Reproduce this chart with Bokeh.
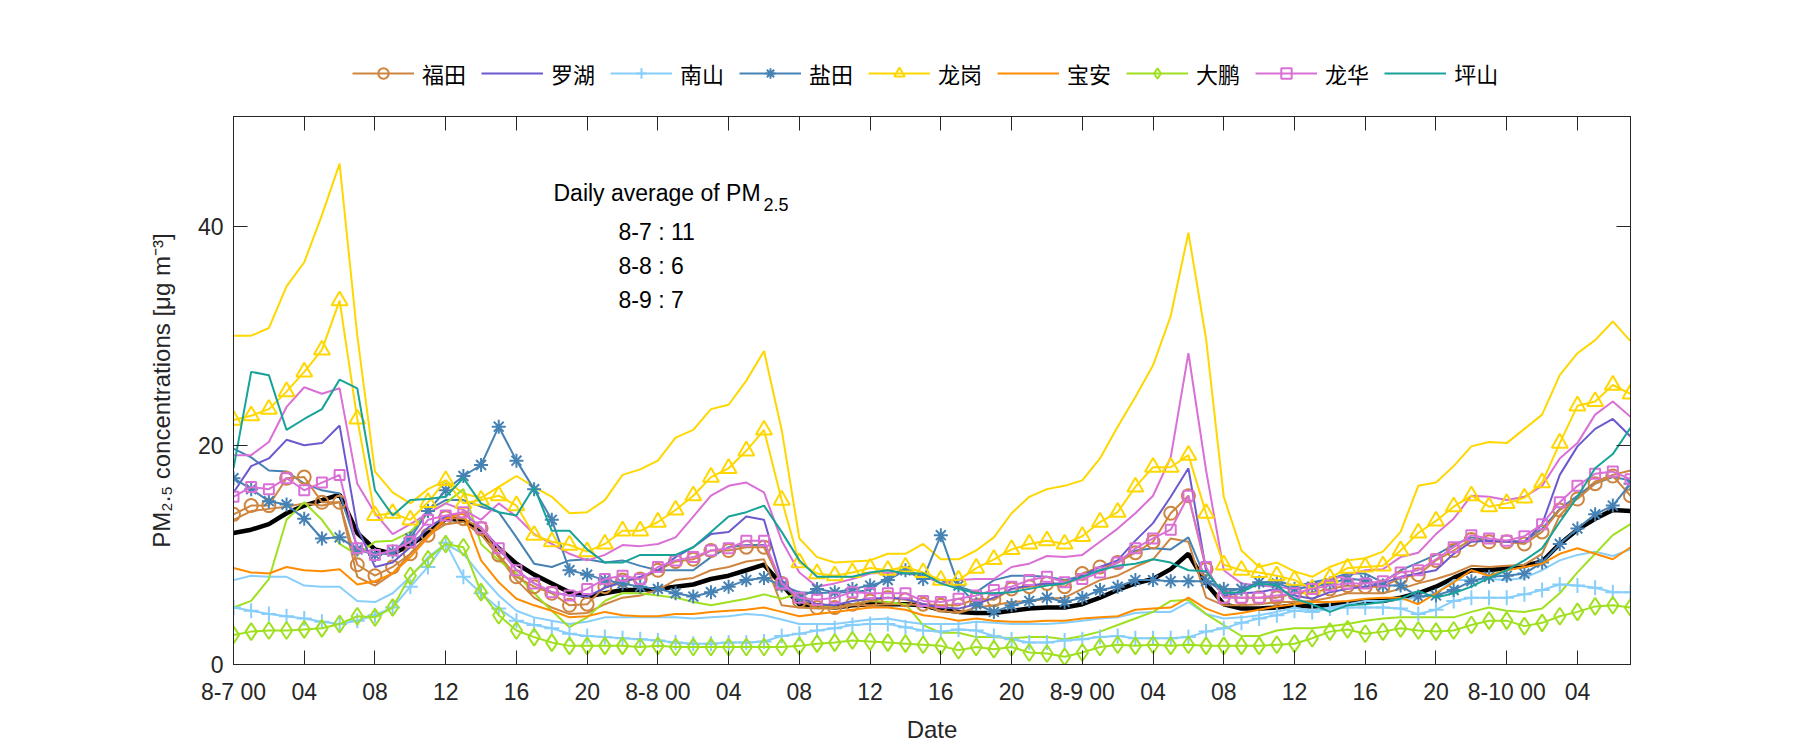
from bokeh.plotting import figure
from bokeh.layouts import column
from bokeh.models import (Range1d, FixedTicker, LinearAxis, Legend, LegendItem, Label)
from bokeh.embed import file_html
from bokeh.resources import INLINE

# ---------------- data ----------------
hours = list(range(80))
tick_positions = list(range(0, 80, 4))
tick_labels = ["8-7 00", "04", "08", "12", "16", "20",
               "8-8 00", "04", "08", "12", "16", "20",
               "8-9 00", "04", "08", "12", "16", "20",
               "8-10 00", "04"]
y_ticks = [0, 20, 40]

districts = ["福田", "罗湖", "南山", "盐田", "龙岗", "宝安", "大鹏", "龙华", "坪山"]

average = [12.0, 12.3, 12.8, 13.8, 14.5, 15.0, 15.5, 12.0, 10.5, 10.1, 10.9, 12.0, 13.3, 13.2, 12.0, 10.6, 9.2, 8.2, 7.4, 6.6, 6.2,
           6.5, 6.8, 6.8, 6.9, 7.1, 7.3, 7.8, 8.1, 8.6, 9.1, 7.3, 5.5, 5.4, 5.2, 5.4, 5.5, 5.5, 5.5, 5.4, 5.0,
           4.8, 4.7, 4.7, 4.9, 5.1, 5.2, 5.2, 5.5, 6.1, 6.8, 7.4, 7.8, 8.7, 10.1, 7.4, 5.5, 5.1, 5.1, 5.2, 5.4,
           5.3, 5.4, 5.6, 5.8, 5.8, 6.1, 6.5, 7.1, 7.9, 8.6, 8.6, 8.8, 9.0, 9.4, 11.0, 12.3, 13.3, 14.1, 14.0]

futian = [13.7, 14.5, 14.5, 17.0, 17.1, 14.8, 14.8, 9.1, 8.1, 8.9, 10.1, 11.8, 13.4, 13.3, 12.4, 10.0, 8.0, 7.1, 6.5, 5.4, 5.5,
          7.1, 7.7, 7.8, 8.6, 9.4, 9.6, 10.4, 10.4, 10.7, 10.7, 7.4, 5.8, 5.2, 5.2, 5.5, 5.8, 6.1, 5.9, 5.5, 5.4,
          5.4, 6.0, 5.9, 6.9, 7.1, 7.4, 7.1, 8.3, 8.9, 9.3, 10.2, 11.2, 13.8, 15.4, 8.7, 6.2, 6.1, 6.1, 6.1, 6.5,
          6.6, 6.9, 7.2, 7.1, 7.1, 7.9, 8.2, 9.5, 10.4, 11.4, 11.2, 11.2, 11.0, 12.1, 14.1, 15.1, 16.5, 17.2, 15.4]
futian_b = [13.2, 14.0, 14.2, 14.4, 14.7, 14.5, 14.8, 8.0, 7.2, 8.3, 10.1, 11.8, 12.8, 13.0, 11.9, 9.8, 7.7, 6.1, 5.2, 4.6, 4.7,
            5.5, 6.1, 6.3, 6.8, 7.7, 7.9, 8.6, 8.9, 9.4, 9.6, 5.4, 5.2, 5.1, 5.1, 5.4, 5.4, 5.5, 5.5, 5.4, 4.9,
            4.7, 5.2, 5.4, 5.7, 5.8, 6.0, 6.1, 6.9, 7.7, 8.1, 8.9, 9.6, 11.5, 11.2, 6.1, 5.4, 5.4, 5.5, 5.7, 5.7,
            5.8, 6.1, 6.5, 6.5, 6.5, 6.9, 7.4, 7.8, 8.3, 9.0, 8.9, 9.0, 9.1, 10.1, 13.6, 15.3, 16.7, 17.3, 17.7]

luohu = [15.7, 18.1, 18.8, 20.5, 20.0, 20.2, 21.8, 12.5, 8.9, 9.3, 10.7, 12.5, 13.5, 13.8, 12.5, 10.7, 8.6, 7.4, 6.6, 6.3, 6.2,
         7.0, 7.5, 8.0, 8.6, 9.8, 10.7, 11.9, 12.1, 13.5, 13.2, 7.7, 6.1, 5.5, 5.4, 5.8, 6.0, 6.1, 6.0, 5.5, 5.2,
         5.1, 5.5, 6.1, 6.9, 7.2, 7.4, 7.4, 8.1, 8.9, 9.5, 11.3, 12.9, 15.3, 17.9, 8.6, 6.3, 6.5, 6.6, 6.9, 6.3,
         6.0, 6.6, 6.9, 7.1, 7.4, 8.0, 8.3, 8.6, 10.1, 11.2, 11.3, 11.2, 11.2, 12.8, 17.3, 19.9, 21.5, 22.4, 20.8]

nanshan = [5.2, 4.9, 4.6, 4.4, 4.2, 3.9, 3.7, 4.0, 4.5, 5.2, 7.1, 8.9, 11.1, 8.0, 6.5, 5.1, 4.0, 3.6, 3.3, 2.8, 2.6,
           2.5, 2.4, 2.3, 2.2, 2.0, 1.9, 1.9, 2.0, 2.0, 2.1, 2.6, 2.8, 3.1, 3.3, 3.6, 3.7, 3.7, 3.4, 3.1, 3.0,
           3.2, 3.1, 2.6, 2.3, 2.0, 2.0, 2.2, 2.3, 2.5, 2.6, 2.4, 2.4, 2.4, 2.5, 3.0, 3.3, 3.8, 4.2, 4.5, 4.9,
           4.8, 5.1, 5.2, 5.2, 5.2, 5.1, 4.6, 5.0, 5.8, 6.1, 6.1, 6.1, 6.4, 6.8, 7.3, 7.2, 7.0, 6.6, 6.6]
nanshan_b = [7.7, 8.1, 8.0, 8.0, 7.2, 7.1, 7.1, 5.8, 5.7, 6.5, 8.0, 9.8, 11.0, 10.1, 8.1, 6.3, 4.9, 4.3, 4.0, 3.7, 3.9,
             4.3, 4.3, 4.3, 4.3, 4.3, 4.2, 4.3, 4.4, 4.6, 4.5, 4.1, 3.7, 3.7, 3.7, 3.9, 4.1, 4.2, 3.9, 3.7, 3.7,
             3.7, 3.9, 3.8, 3.7, 3.7, 3.7, 3.8, 4.0, 4.2, 4.3, 4.7, 4.8, 4.8, 5.7, 4.6, 4.2, 4.3, 4.5, 4.8, 5.2,
             4.9, 5.2, 5.5, 5.8, 5.8, 5.9, 6.1, 6.5, 7.7, 7.7, 7.8, 7.7, 7.9, 8.6, 9.5, 10.0, 10.3, 9.9, 10.5]

yantian = [17.0, 16.0, 14.9, 14.6, 13.3, 11.5, 11.6, 10.5, 10.0, 10.3, 11.5, 14.0, 15.9, 17.2, 18.2, 21.7, 18.6, 16.0, 13.2, 8.6, 8.2,
           7.7, 7.4, 7.1, 6.9, 6.5, 6.2, 6.6, 7.1, 7.7, 7.9, 7.2, 6.1, 6.9, 6.6, 6.9, 7.2, 7.7, 8.6, 7.8, 11.8,
           7.2, 5.5, 4.8, 5.4, 5.8, 6.1, 5.7, 6.1, 6.8, 7.1, 7.7, 7.7, 7.6, 7.6, 7.6, 6.9, 6.9, 7.5, 7.4, 6.9,
           7.1, 7.4, 7.8, 7.7, 7.2, 7.2, 6.2, 6.3, 6.8, 7.6, 8.0, 8.1, 8.3, 9.3, 11.0, 12.4, 13.7, 14.5, 16.5]
yantian_b = [19.7, 18.9, 17.7, 17.6, 16.5, 15.9, 15.6, 10.7, 10.1, 10.1, 11.9, 14.1, 15.0, 15.0, 14.4, 13.9, 11.6, 9.2, 8.9, 9.5, 9.6,
             9.3, 9.5, 9.0, 8.6, 8.6, 8.6, 9.8, 10.7, 10.9, 10.9, 7.2, 6.6, 6.5, 6.6, 6.6, 6.8, 8.0, 8.6, 8.1, 7.7,
             7.1, 6.6, 7.7, 8.1, 8.1, 8.0, 7.7, 8.1, 8.6, 9.3, 10.4, 10.6, 10.5, 11.6, 7.7, 6.6, 6.9, 7.4, 7.7, 7.1,
             7.5, 7.8, 8.3, 8.3, 7.5, 8.6, 9.3, 10.0, 10.9, 11.6, 11.3, 11.3, 11.2, 12.4, 14.2, 15.4, 16.5, 17.1, 16.8]

longgang = [22.3, 22.7, 23.3, 24.9, 26.7, 28.7, 33.2, 22.4, 13.6, 13.8, 13.2, 14.8, 16.8, 14.7, 15.0, 15.4, 14.5, 11.8, 11.2, 10.9, 10.3,
            11.0, 12.2, 12.2, 13.0, 14.1, 15.4, 17.1, 17.9, 19.5, 21.4, 15.0, 9.3, 8.3, 8.1, 8.4, 8.8, 8.6, 8.9, 8.4, 7.7,
            7.7, 8.8, 9.6, 10.5, 11.0, 11.3, 11.0, 11.7, 13.0, 13.9, 16.2, 18.0, 18.0, 19.1, 13.8, 9.1, 8.6, 8.4, 8.1, 7.7,
            6.9, 7.9, 8.8, 8.9, 9.0, 10.4, 12.0, 13.1, 14.4, 15.4, 14.4, 14.7, 15.2, 16.6, 20.2, 23.6, 24.0, 25.5, 24.7]
longgang_b = [30.0, 30.0, 30.7, 34.5, 36.7, 41.0, 45.7, 30.0, 17.6, 15.7, 14.7, 16.0, 16.8, 15.6, 15.2, 16.2, 17.2, 16.2, 15.3, 13.8, 13.9,
              15.0, 17.3, 17.8, 18.6, 20.7, 21.4, 23.3, 23.7, 25.9, 28.6, 21.4, 11.5, 9.8, 9.3, 9.4, 9.5, 10.1, 10.1, 11.0, 9.6,
              9.6, 10.4, 11.6, 13.8, 15.3, 16.0, 16.3, 16.8, 18.8, 21.7, 24.4, 27.3, 31.8, 39.4, 29.7, 15.3, 10.4, 8.9, 9.3, 8.5,
              8.0, 8.9, 9.5, 9.7, 10.3, 12.1, 16.3, 16.6, 18.1, 19.9, 20.3, 20.2, 21.5, 22.8, 26.4, 28.4, 29.6, 31.3, 29.5]

baoan = [8.8, 8.4, 8.3, 8.9, 8.6, 8.5, 8.7, 7.3, 7.6, 8.3, 9.8, 11.6, 13.3, 13.8, 9.5, 7.5, 6.0, 5.4, 4.9, 4.3, 4.4,
         4.8, 4.5, 4.4, 4.4, 4.6, 4.6, 4.8, 4.9, 5.0, 5.2, 4.8, 4.4, 4.6, 4.8, 5.0, 5.2, 5.2, 5.0, 4.5, 4.3,
         4.0, 4.2, 4.0, 3.9, 3.9, 4.0, 4.0, 4.2, 4.3, 4.4, 5.0, 5.1, 5.2, 6.1, 5.1, 4.5, 4.7, 5.0, 5.3, 5.5,
         5.7, 5.7, 5.8, 6.0, 6.1, 6.1, 5.5, 6.5, 7.5, 8.6, 8.1, 8.6, 8.9, 9.2, 10.1, 10.6, 10.1, 9.6, 10.7]

dapeng = [2.7, 3.0, 3.1, 3.1, 3.2, 3.3, 3.7, 4.4, 4.3, 5.2, 8.1, 9.6, 11.0, 10.7, 6.6, 4.5, 3.1, 2.5, 2.0, 1.7, 1.7,
          1.7, 1.7, 1.6, 1.7, 1.6, 1.6, 1.6, 1.6, 1.6, 1.6, 1.6, 1.7, 1.9, 2.0, 2.2, 2.1, 2.0, 1.9, 1.8, 1.7,
          1.3, 1.6, 1.4, 1.6, 1.1, 1.0, 0.7, 1.1, 1.6, 1.8, 1.7, 1.8, 1.7, 1.8, 1.7, 1.7, 1.7, 1.7, 1.8, 1.9,
          2.4, 3.0, 3.2, 2.8, 3.0, 3.3, 3.1, 3.0, 3.1, 3.6, 4.0, 4.0, 3.5, 3.8, 4.4, 4.8, 5.3, 5.4, 5.2]
dapeng_b = [5.2, 5.8, 7.8, 13.2, 14.8, 13.2, 11.0, 10.0, 11.2, 11.3, 12.1, 13.8, 14.7, 16.0, 11.0, 9.5, 8.3, 6.5, 4.9, 3.4, 4.3,
            5.8, 6.5, 6.5, 6.3, 6.1, 5.7, 5.4, 5.7, 6.0, 6.4, 6.0, 6.5, 5.4, 5.2, 5.5, 5.8, 5.7, 5.5, 3.6, 2.9,
            2.9, 2.5, 2.5, 2.4, 2.5, 2.5, 2.3, 2.6, 3.0, 3.6, 4.2, 4.8, 5.8, 5.9, 4.6, 3.6, 2.6, 2.6, 3.1, 3.3,
            3.3, 3.5, 3.7, 4.0, 4.2, 4.3, 4.3, 4.3, 4.3, 4.8, 5.2, 4.9, 4.8, 5.1, 6.5, 8.4, 10.1, 11.8, 12.8]

longhua = [15.3, 16.2, 16.0, 17.0, 15.9, 16.6, 17.3, 10.6, 10.0, 10.4, 11.2, 13.2, 13.6, 13.9, 12.5, 10.6, 8.6, 7.4, 6.6, 6.3, 6.9,
           7.8, 8.1, 7.8, 8.9, 9.5, 9.8, 10.4, 10.6, 11.3, 11.3, 7.4, 6.1, 5.9, 6.1, 6.6, 6.5, 6.5, 6.5, 5.8, 5.7,
           6.0, 6.3, 6.8, 7.1, 7.7, 8.0, 7.5, 7.8, 8.4, 9.3, 10.6, 11.5, 12.3, 15.4, 8.9, 6.1, 6.1, 6.1, 6.3, 6.5,
           6.9, 7.2, 7.4, 7.4, 7.6, 8.4, 8.6, 9.6, 10.7, 11.8, 11.5, 11.3, 11.7, 12.8, 14.8, 16.3, 17.4, 17.6, 16.9]
longhua_b = [19.1, 19.1, 20.3, 23.5, 25.3, 24.7, 25.2, 16.5, 13.8, 11.9, 12.8, 13.8, 14.7, 14.1, 13.2, 14.7, 13.5, 11.9, 11.0, 10.1, 9.5,
             10.0, 10.9, 10.8, 11.0, 11.6, 13.5, 15.4, 16.3, 16.6, 15.7, 11.3, 8.4, 7.1, 7.4, 7.8, 8.3, 8.4, 8.3, 8.1, 7.4,
             7.7, 7.8, 7.8, 8.9, 9.2, 9.9, 9.8, 10.0, 11.2, 12.4, 13.8, 15.4, 18.9, 28.4, 17.7, 8.6, 7.4, 7.2, 7.1, 6.9,
             7.2, 7.8, 8.1, 8.6, 8.7, 9.8, 10.2, 11.9, 13.3, 15.4, 15.3, 15.0, 15.3, 16.3, 18.8, 20.2, 22.8, 24.0, 22.6]

pingshan = [17.9, 26.7, 26.4, 21.4, 22.4, 23.3, 26.0, 25.2, 15.9, 13.6, 15.0, 15.1, 15.3, 17.0, 14.7, 13.9, 13.6, 16.2, 12.2, 12.2, 10.5,
            9.3, 9.3, 10.0, 10.0, 10.0, 10.7, 12.1, 13.5, 13.9, 14.5, 12.1, 9.5, 8.0, 8.0, 8.0, 8.4, 8.6, 8.3, 8.3, 7.4,
            6.9, 6.5, 6.5, 6.6, 6.9, 7.2, 7.4, 8.0, 8.6, 9.0, 9.2, 9.6, 9.3, 8.6, 8.5, 6.5, 6.6, 7.4, 7.2, 6.0,
            5.5, 4.8, 5.4, 5.5, 5.7, 6.0, 6.7, 6.1, 6.5, 7.1, 7.9, 8.6, 9.5, 10.6, 13.0, 15.3, 17.9, 19.2, 21.6]

daily_lines = ["8-7 : 11", "8-8 : 6", "8-9 : 7"]

# ---------------- styles ----------------
colors = {"福田": "#CD853F", "罗湖": "#6A5ACD", "南山": "#87CEFA", "盐田": "#4682B4",
          "龙岗": "#FFD700", "宝安": "#FF8C00", "大鹏": "#9FE020", "龙华": "#DA70D6",
          "坪山": "#17A398"}
markers = {"福田": ("circle", 13), "南山": ("cross", 15), "盐田": ("asterisk", 14),
           "龙岗": ("triangle", 16), "大鹏": ("diamond", 17), "龙华": ("square", 10)}
main_series = {"福田": futian, "罗湖": luohu, "南山": nanshan, "盐田": yantian,
               "龙岗": longgang, "宝安": baoan, "大鹏": dapeng, "龙华": longhua,
               "坪山": pingshan}
companion = {"福田": futian_b, "南山": nanshan_b, "盐田": yantian_b,
             "龙岗": longgang_b, "大鹏": dapeng_b, "龙华": longhua_b}

AX = "#262626"
FONT = "Liberation Sans"
W = 1796
LEG_H = 100
BL, BR = 233, 166

# ---------------- legend strip (own small figure on top) ----------------
# Same left/right borders as the main plot (the column aligns the frames);
# its y range keeps the series out of view so that only the legend shows.
lf = figure(width=W, height=LEG_H, x_range=Range1d(0, 79), y_range=Range1d(-100, -99),
            output_backend="svg", toolbar_location=None,
            x_axis_type=None, y_axis_type=None,
            min_border_left=BL, min_border_right=BR, min_border_top=0, min_border_bottom=0)
lf.outline_line_color = None
lf.xgrid.visible = False
lf.ygrid.visible = False
items = []
for d in districts:
    rs = [lf.line(hours, main_series[d], line_color=colors[d], line_width=2)]
    if d in markers:
        m, s = markers[d]
        rs.append(lf.scatter(hours, main_series[d], marker=m, size=s - 2,
                             line_color=colors[d], line_width=2, fill_color=None))
    items.append(LegendItem(label=d, renderers=rs))
legend = Legend(items=items, orientation="horizontal", location=(119, 11),
                glyph_width=62, glyph_height=26, label_height=26, label_width=44,
                label_standoff=8, spacing=15, padding=0, margin=0,
                border_line_alpha=0, background_fill_alpha=0,
                label_text_font="Noto Sans CJK SC", label_text_font_size="22px",
                label_text_color="black")
lf.add_layout(legend)

# ---------------- main plot ----------------
p = figure(width=W, height=746 - LEG_H, x_range=Range1d(0, 79), y_range=Range1d(0, 50),
           output_backend="svg", toolbar_location=None,
           min_border_left=BL, min_border_right=BR, min_border_top=116 - LEG_H,
           min_border_bottom=82)
p.background_fill_color = "white"
p.border_fill_color = "white"
p.outline_line_color = AX
p.outline_line_width = 1
p.xgrid.visible = False
p.ygrid.visible = False

overrides = {pos: lab for pos, lab in zip(tick_positions, tick_labels)}

def style_axis(ax):
    ax.axis_line_color = AX
    ax.major_tick_line_color = AX
    ax.major_tick_in = 14
    ax.major_tick_out = 0
    ax.minor_tick_line_color = None
    ax.major_label_text_font = FONT
    ax.major_label_text_color = AX
    ax.major_label_text_font_size = "23px"

xa = p.xaxis[0]
xa.ticker = FixedTicker(ticks=tick_positions)
xa.major_label_overrides = overrides
style_axis(xa)
xa.major_label_standoff = 14
xa.axis_label = "Date"
xa.axis_label_text_font = FONT
xa.axis_label_text_font_size = "24px"
xa.axis_label_text_font_style = "normal"
xa.axis_label_text_color = AX
xa.axis_label_standoff = 8

ya = p.yaxis[0]
ya.ticker = FixedTicker(ticks=y_ticks)
style_axis(ya)
ya.major_label_standoff = 10
ya.axis_label = "PM₂.₅ concentrations [μg m⁻³]"
ya.axis_label_text_font = FONT
ya.axis_label_text_font_size = "24px"
ya.axis_label_text_font_style = "normal"
ya.axis_label_text_color = AX
ya.axis_label_standoff = 20

top = LinearAxis(ticker=FixedTicker(ticks=tick_positions))
style_axis(top)
top.major_label_overrides = {t: "" for t in tick_positions}
top.major_label_text_color = None
top.major_label_standoff = 0
p.add_layout(top, "above")
right = LinearAxis(ticker=FixedTicker(ticks=y_ticks))
style_axis(right)
right.major_label_overrides = {t: "" for t in y_ticks}
right.major_label_text_color = None
right.major_label_standoff = 0
p.add_layout(right, "right")

p.line(hours, average, line_color="black", line_width=4.5)
for d in districts:
    if d in companion:
        p.line(hours, companion[d], line_color=colors[d], line_width=2)
for d in districts:
    p.line(hours, main_series[d], line_color=colors[d], line_width=2)
    if d in markers:
        m, s = markers[d]
        p.scatter(hours, main_series[d], marker=m, size=s,
                  line_color=colors[d], line_width=2, fill_color=None)

def lab(x, y, text, size):
    p.add_layout(Label(x=x, y=y, x_units="screen", y_units="screen", text=text,
                       text_font=FONT, text_font_size=size, text_color="black",
                       text_align="left", text_baseline="alphabetic"))

lab(320, 472, "Daily average of PM", "23px")
lab(530, 460, "2.5", "18px")
for i, t in enumerate(daily_lines):
    lab(385, 433 - 34 * i, t, "23px")

layout = column(lf, p, spacing=0)
open("out.html", "w").write(file_html(layout, INLINE))
